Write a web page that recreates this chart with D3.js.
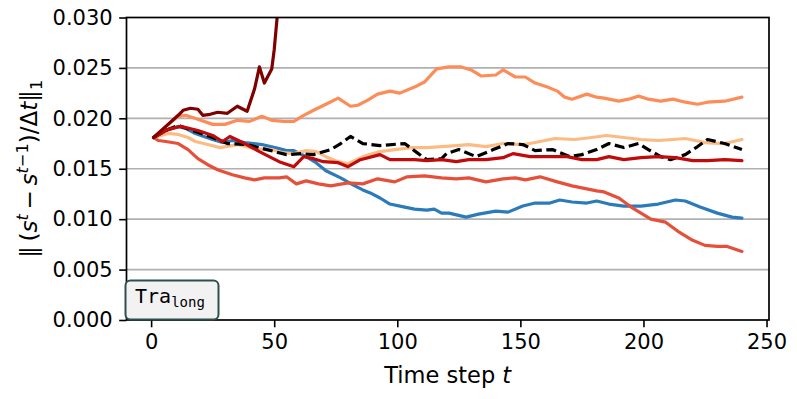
<!DOCTYPE html>
<html>
<head>
<meta charset="utf-8">
<script src="https://cdn.jsdelivr.net/npm/d3@7"></script>
<style>
  html, body { margin: 0; padding: 0; background: #fff; }
  svg { display: block; }
  text { font-family: "DejaVu Sans", sans-serif; }
</style>
</head>
<body>
<svg id="chart" width="797" height="399"></svg>
<script>
// ---------- data ----------
const xTicks = [0, 50, 100, 150, 200, 250];
const yTicks = [0, 0.005, 0.010, 0.015, 0.020, 0.025, 0.030];

const blue = [[1,0.0181],[6,0.0188],[11,0.0192],[14,0.0190],[18,0.0185],[25,0.0179],[29,0.0176],[33,0.0178],[38,0.0176],[45,0.0174],[52,0.0170],[55,0.0168],[58,0.0168],[63,0.0162],[67,0.0156],[71,0.0148],[77,0.0141],[82,0.0134],[86,0.0129],[89,0.0126],[93,0.0121],[97,0.0115],[103,0.0112],[107,0.0110],[112,0.0109],[115,0.0110],[118,0.0106],[121,0.0106],[128,0.0102],[133,0.0105],[140,0.0108],[145,0.0107],[151,0.0113],[156,0.0116],[162,0.0116],[166,0.0119],[171,0.0117],[177,0.0116],[181,0.0118],[186,0.0115],[192,0.0113],[199,0.0113],[206,0.0115],[213,0.0119],[217,0.0118],[223,0.0112],[230,0.0106],[236,0.0102],[240,0.0101]];

const lightOrange = [[1,0.0181],[7,0.0185],[11,0.0184],[15,0.0181],[18,0.0177],[23,0.0174],[28,0.0171],[35,0.0174],[42,0.0170],[49,0.0169],[53,0.0166],[58,0.0165],[63,0.0168],[67,0.0167],[71,0.0162],[75,0.0158],[80,0.0155],[86,0.0162],[93,0.0167],[99,0.0169],[106,0.0171],[112,0.0171],[118,0.0172],[124,0.0173],[129,0.0174],[136,0.0172],[143,0.0175],[151,0.0174],[156,0.0176],[164,0.0180],[172,0.0179],[179,0.0181],[185,0.0183],[192,0.0181],[199,0.0179],[206,0.0178],[212,0.0179],[217,0.0180],[225,0.0176],[233,0.0175],[240,0.0179]];

const orange = [[1,0.0181],[6,0.0192],[11,0.0202],[14,0.0203],[19,0.0199],[25,0.0194],[30,0.0194],[35,0.0198],[40,0.0197],[45,0.0202],[49,0.0198],[54,0.0197],[58,0.0197],[62,0.0203],[66,0.0208],[71,0.0214],[76,0.0220],[81,0.0212],[84,0.0213],[88,0.0218],[92,0.0224],[97,0.0227],[101,0.0225],[107,0.0231],[111,0.0236],[116,0.0249],[121,0.0251],[126,0.0251],[130,0.0248],[134,0.0242],[140,0.0243],[143,0.0248],[148,0.0241],[152,0.0241],[156,0.0235],[161,0.0231],[165,0.0227],[168,0.0221],[171,0.0219],[177,0.0224],[181,0.0221],[184,0.0220],[190,0.0217],[194,0.0219],[198,0.0222],[202,0.0219],[207,0.0217],[212,0.0219],[217,0.0216],[222,0.0214],[226,0.0216],[233,0.0217],[240,0.0221]];

const redOrange = [[1,0.0181],[3,0.0178],[6,0.0177],[11,0.0175],[15,0.0169],[19,0.0160],[23,0.0154],[27,0.0149],[33,0.0144],[38,0.0141],[42,0.0139],[46,0.0141],[52,0.0141],[55,0.0142],[59,0.0135],[63,0.0138],[68,0.0135],[73,0.0133],[80,0.0136],[86,0.0135],[92,0.0140],[99,0.0137],[104,0.0142],[111,0.0143],[118,0.0141],[124,0.0140],[129,0.0141],[136,0.0137],[143,0.0140],[148,0.0141],[152,0.0139],[158,0.0142],[165,0.0137],[171,0.0133],[177,0.0130],[181,0.0128],[184,0.0127],[190,0.0121],[195,0.0112],[199,0.0106],[203,0.0100],[209,0.0097],[214,0.0088],[220,0.0079],[225,0.0074],[230,0.0073],[234,0.0073],[240,0.0068]];

const red = [[1,0.0181],[7,0.0189],[12,0.0192],[19,0.0188],[25,0.0183],[29,0.0177],[32,0.0182],[38,0.0175],[44,0.0167],[48,0.0162],[52,0.0157],[58,0.0152],[62,0.0162],[66,0.0160],[70,0.0157],[76,0.0156],[80,0.0152],[85,0.0159],[93,0.0164],[97,0.0159],[107,0.0159],[112,0.0158],[118,0.0159],[124,0.0157],[129,0.0159],[136,0.0159],[143,0.0161],[147,0.0165],[154,0.0162],[160,0.0162],[169,0.0162],[175,0.0159],[181,0.0159],[186,0.0162],[192,0.0159],[199,0.0161],[206,0.0162],[213,0.0161],[220,0.0158],[226,0.0158],[233,0.0159],[240,0.0158]];

const darkRed = [[1,0.0181],[6,0.0192],[11,0.0203],[13,0.0208],[16,0.0210],[19,0.0209],[21,0.0203],[24,0.0204],[27,0.0206],[31,0.0205],[35,0.0212],[39,0.0207],[42,0.0229],[44,0.0251],[46,0.0235],[49,0.0249],[50,0.0268],[51,0.0295],[52,0.0320]];

const baseline = [[1,0.0181],[6,0.0188],[11,0.0193],[18,0.0187],[25,0.0181],[31,0.0175],[39,0.0174],[47,0.0169],[55,0.0164],[61,0.0165],[66,0.0164],[73,0.0169],[77,0.0175],[81,0.0182],[86,0.0175],[93,0.0173],[103,0.0175],[108,0.0166],[112,0.0159],[118,0.0160],[120,0.0165],[125,0.0169],[132,0.0162],[139,0.0169],[145,0.0175],[151,0.0174],[156,0.0168],[163,0.0169],[170,0.0162],[175,0.0164],[181,0.0169],[186,0.0175],[192,0.0171],[198,0.0175],[202,0.0169],[207,0.0162],[211,0.0159],[217,0.0164],[222,0.0172],[226,0.0179],[233,0.0175],[240,0.0169]];

const series = [
  { data: blue,        color: "#2b7bba", dash: null },
  { data: redOrange,   color: "#e6503a", dash: null },
  { data: lightOrange, color: "#fdbb84", dash: null },
  { data: orange,      color: "#fc8d59", dash: null },
  { data: baseline,    color: "#000000", dash: "10,4.5" },
  { data: red,         color: "#bf0b0b", dash: null },
  { data: darkRed,     color: "#800000", dash: null }
];

// ---------- layout ----------
const L = 126.5, R = 769, T = 17.5, B = 320;
const x = d3.scaleLinear().domain([-10, 251]).range([L, R]);
const y = d3.scaleLinear().domain([0, 0.03]).range([B, T]);

const svg = d3.select("#chart");

svg.append("defs").append("clipPath").attr("id", "plotclip")
  .append("rect").attr("x", L).attr("y", T).attr("width", R - L).attr("height", B - T);

// grid
svg.append("g").selectAll("line").data(yTicks.slice(1, -1)).join("line")
  .attr("x1", L).attr("x2", R)
  .attr("y1", d => y(d)).attr("y2", d => y(d))
  .attr("stroke", "#b0b0b0").attr("stroke-width", 1.7);

// lines
const line = d3.line().x(d => x(d[0])).y(d => y(d[1])).curve(d3.curveLinear);
const gLines = svg.append("g").attr("clip-path", "url(#plotclip)");
series.forEach(s => {
  gLines.append("path").datum(s.data)
    .attr("d", line)
    .attr("fill", "none")
    .attr("stroke", s.color)
    .attr("stroke-width", 3.2)
    .attr("stroke-linejoin", "round")
    .attr("stroke-linecap", s.dash ? "butt" : "round")
    .attr("stroke-dasharray", s.dash);
});

// axes
const tickFont = 21;
const labelFont = 22.5;
const yAxis = svg.append("g").attr("transform", `translate(${L},0)`)
  .call(d3.axisLeft(y).tickValues(yTicks).tickFormat(d3.format(".3f")).tickSize(7.3).tickPadding(6.5));
const xAxis = svg.append("g").attr("transform", `translate(0,${B})`)
  .call(d3.axisBottom(x).tickValues(xTicks).tickFormat(d3.format("d")).tickSize(7.3).tickPadding(6.5));
[yAxis, xAxis].forEach(a => {
  a.select(".domain").remove();
  a.selectAll(".tick line").attr("stroke", "#000").attr("stroke-width", 1.6);
  a.selectAll(".tick text").attr("fill", "#000")
    .style("font-family", "'DejaVu Sans', sans-serif").style("font-size", tickFont + "px");
});

// spines
svg.append("rect").attr("x", L).attr("y", T).attr("width", R - L).attr("height", B - T)
  .attr("fill", "none").attr("stroke", "#000").attr("stroke-width", 1.7);

// x label
const xl = svg.append("text").attr("x", (L + R) / 2).attr("y", 383)
  .attr("text-anchor", "middle").style("font-size", labelFont + "px").attr("fill", "#000");
xl.append("tspan").text("Time step ");
xl.append("tspan").attr("font-style", "italic").text("t");

// y label (fitted to the reference span of ~177px)
function drawYLabel(fs) {
  svg.selectAll(".ylabel").remove();
  const sup = fs * 0.7, off = fs * 0.4;
  const yl = svg.append("text").attr("class", "ylabel")
    .attr("transform", `translate(37,${(T + B) / 2}) rotate(-90)`)
    .attr("text-anchor", "middle").style("font-size", fs + "px").attr("fill", "#000");
  yl.append("tspan").text("\u2016\u2009(");
  yl.append("tspan").attr("font-style", "italic").text("s");
  yl.append("tspan").attr("font-style", "italic").style("font-size", sup + "px").attr("dy", -off).text("t");
  yl.append("tspan").attr("dy", off).text("\u2009\u2212\u2009");
  yl.append("tspan").attr("font-style", "italic").text("s");
  yl.append("tspan").style("font-size", sup + "px").attr("dy", -off)
    .html('<tspan font-style="italic">t</tspan>\u2212<tspan>1</tspan>');
  yl.append("tspan").attr("dy", off).text(")/\u0394");
  yl.append("tspan").attr("font-style", "italic").text("t");
  yl.append("tspan").text("\u2016");
  yl.append("tspan").style("font-size", sup + "px").attr("dy", fs * 0.2).text("1");
  return yl;
}
let yl = drawYLabel(labelFont);
const w0 = yl.node().getBBox().width;
if (w0 > 0) yl = drawYLabel(labelFont * 178 / w0);

// annotation box
const box = svg.append("g");
box.append("rect").attr("x", 125.5).attr("y", 280.5).attr("width", 93).attr("height", 39)
  .attr("rx", 5).attr("ry", 5)
  .attr("fill", "#f2f2f2").attr("stroke", "#2f4f4f").attr("stroke-width", 2);
const bt = box.append("text").attr("x", 135).attr("y", 302.5)
  .style("font-family", "'DejaVu Sans Mono', monospace").style("font-size", "20px").attr("fill", "#000");
bt.append("tspan").text("Tra");
bt.append("tspan").attr("dy", 4).style("font-size", "14px").text("long");
</script>
</body>
</html>
